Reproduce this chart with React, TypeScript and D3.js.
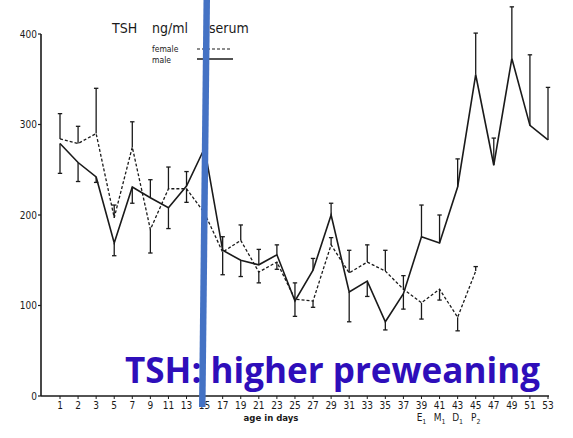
import React from "react";
import * as d3 from "d3";

const days = ["1","2","3","5","7","9","11","13","15","17","19","21","23","25","27","29","31","33","35","37","39","41","43","45","47","49","51","53"];
const maleMean = [279,258,242,169,231,219,208,232,274,161,150,145,156,105,139,200,115,127,82,113,176,169,231,355,255,373,299,283];
const maleErr: (number|null)[] = [246,237,236,155,213,239,185,248,null,176,132,162,167,88,152,213,82,110,73,96,211,200,262,401,285,430,377,341];
const femaleDays = days.slice(0, 24);
const femaleMean = [284,279,290,197,275,184,229,229,202,159,172,137,148,107,105,167,136,148,138,118,103,118,87,138];
const femaleErr: (number|null)[] = [312,298,340,211,303,158,253,214,null,134,189,125,140,125,98,175,161,167,161,133,85,106,72,143];
const yTicks = [0,100,200,300,400];
const subLabels = [{day:"39",main:"E",sub:"1"},{day:"41",main:"M",sub:"1"},{day:"43",main:"D",sub:"1"},{day:"45",main:"P",sub:"2"}];

export default function App() {
  const W = 573, H = 438;
  const x = d3.scalePoint<string>().domain(days).range([60, 548]);
  const y = d3.scaleLinear().domain([0, 400]).range([396, 34]);
  const line = d3.line<[string, number]>().x(d => x(d[0])!).y(d => y(d[1]));
  const maleData = days.map((d, i) => [d, maleMean[i]] as [string, number]);
  const femaleData = femaleDays.map((d, i) => [d, femaleMean[i]] as [string, number]);
  const ink = "#1a1a1a";
  const bars = (ds: string[], m: number[], e: (number|null)[], key: string) =>
    ds.map((d, i) => {
      const ev = e[i];
      if (ev == null) return null;
      const cx = x(d)!;
      return (
        <g key={key + d}>
          <line x1={cx} x2={cx} y1={y(m[i])} y2={y(ev)} stroke={ink} strokeWidth={1.3} />
          <line x1={cx - 2.2} x2={cx + 2.2} y1={y(ev)} y2={y(ev)} stroke={ink} strokeWidth={1.3} />
        </g>
      );
    });
  return (
    <svg width={W} height={H} style={{ position: "absolute", left: 0, top: 0, background: "#fff" }}
      fontFamily="'Liberation Sans Narrow','DejaVu Sans Condensed','Liberation Sans',sans-serif">
      <rect width={W} height={H} fill="#fff" />
      {/* axes */}
      <line x1={41} x2={41} y1={y(400)} y2={y(0)} stroke={ink} strokeWidth={1.6} />
      <line x1={41} x2={549} y1={y(0)} y2={y(0)} stroke={ink} strokeWidth={1.6} />
      {yTicks.map(t => (
        <g key={"yt" + t}>
          <line x1={38} x2={41} y1={y(t)} y2={y(t)} stroke={ink} strokeWidth={1.2} />
          <text x={37} y={y(t)} dy="0.35em" textAnchor="end" fontSize={10} fill={ink}>{t}</text>
        </g>
      ))}
      {days.map(d => (
        <g key={"xt" + d}>
          <line x1={x(d)!} x2={x(d)!} y1={396} y2={399} stroke={ink} strokeWidth={1} />
          <text x={x(d)!} y={409} textAnchor="middle" fontSize={10} fill={ink}>{d}</text>
        </g>
      ))}
      {subLabels.map(s => (
        <text key={"sl" + s.day} x={x(s.day)!} y={421} textAnchor="middle" fontSize={10} fill={ink}>
          {s.main}<tspan fontSize={7} dy={3}>{s.sub}</tspan>
        </text>
      ))}
      <text x={271} y={421} textAnchor="middle" fontSize={9.5} fill={ink} fontWeight="bold">age  in  days</text>
      {/* legend */}
      <text x={112} y={33} fontSize={14} fill={ink}>TSH</text>
      <text x={152} y={33} fontSize={14} fill={ink}>ng/ml</text>
      <text x={209} y={33} fontSize={14} fill={ink}>serum</text>
      <text x={152} y={52} fontSize={8.5} fill={ink}>female</text>
      <text x={152} y={63} fontSize={8.5} fill={ink}>male</text>
      <line x1={197} x2={231} y1={49} y2={49} stroke={ink} strokeWidth={1.1} strokeDasharray="3,2" />
      <line x1={197} x2={233} y1={59} y2={59} stroke={ink} strokeWidth={1.4} />
      {/* series */}
      {bars(femaleDays, femaleMean, femaleErr, "f")}
      {bars(days, maleMean, maleErr, "m")}
      <path d={line(femaleData)!} fill="none" stroke={ink} strokeWidth={1.3} strokeDasharray="3,2" />
      <path d={line(maleData)!} fill="none" stroke={ink} strokeWidth={1.6} />
      {/* overlay */}
      <polygon points="203.5,0 210,0 205.5,407 199,407" fill="#4472C4" />
      <text x={125} y={383} fontFamily="'Open Sans','Noto Sans',sans-serif" fontWeight="bold" fontSize={35}
        fill="#2E0EBA" textLength={415} lengthAdjust="spacingAndGlyphs">TSH: higher preweaning</text>
    </svg>
  );
}
